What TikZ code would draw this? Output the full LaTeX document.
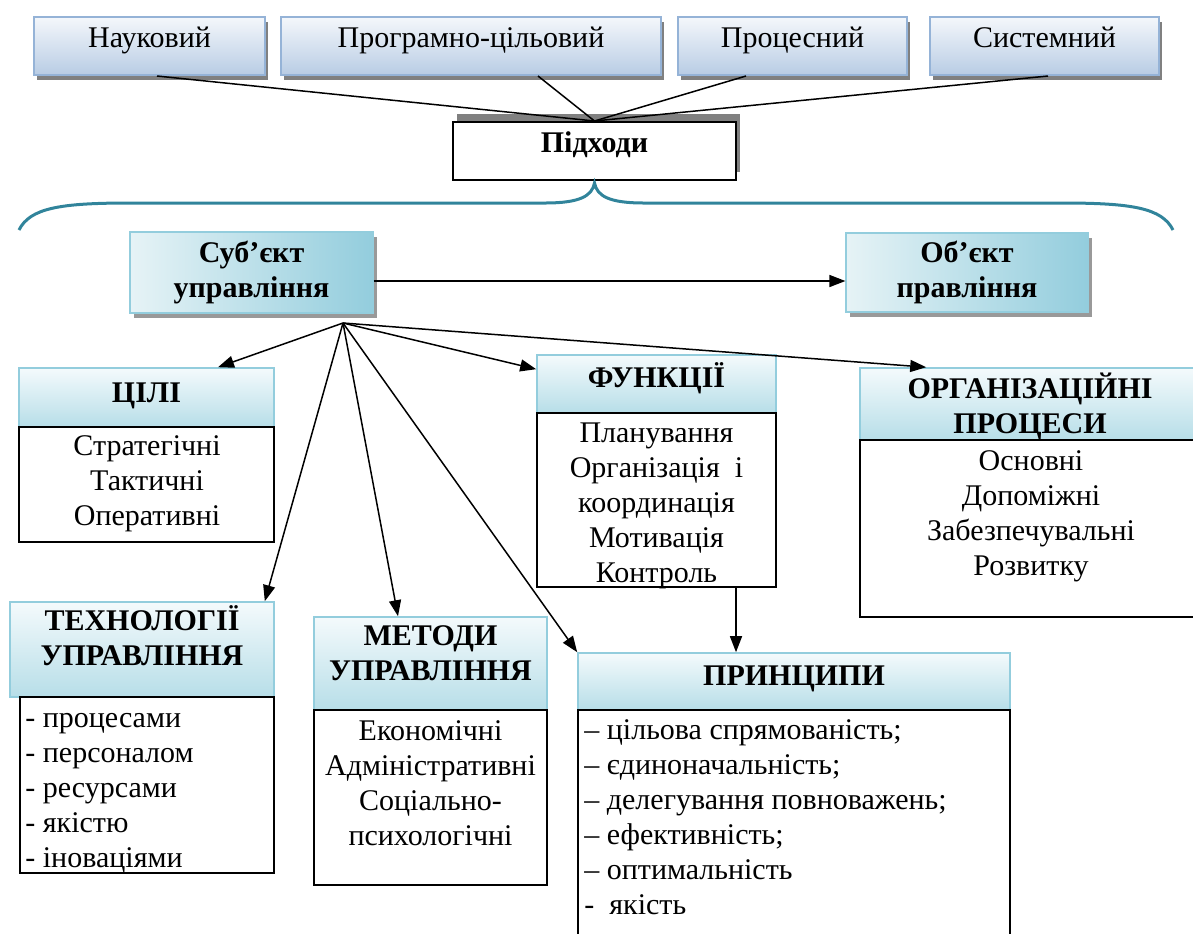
\documentclass[tikz,border=0pt]{standalone}
\usepackage{fontspec}
\setmainfont{Liberation Serif}
\usetikzlibrary{positioning,arrows.meta,fit,calc,shadows}
\definecolor{apprtop}{HTML}{F4F7FB}
\definecolor{apprbot}{HTML}{B8CCE4}
\definecolor{apprline}{HTML}{95B3D7}
\definecolor{headtop}{HTML}{F4FAFC}
\definecolor{headbot}{HTML}{B7DEE8}
\definecolor{headline}{HTML}{93CDDD}
\definecolor{actleft}{HTML}{E6F3F6}
\definecolor{actright}{HTML}{93CDDD}
\definecolor{bracec}{HTML}{31849B}
\definecolor{shade}{HTML}{808080}

\begin{document}
\begin{tikzpicture}[
  x=0.5pt, y=-0.5pt,
  font=\fontsize{15}{17.5}\selectfont,
  box/.style={inner sep=0pt, line width=1pt},
  appr/.style={box, draw=apprline, top color=apprtop, bottom color=apprbot,
               drop shadow={shadow xshift=1.5pt, shadow yshift=-2.5pt, fill=shade, opacity=1}},
  hub/.style={box, draw=black, fill=white,
              drop shadow={shadow xshift=2pt, shadow yshift=4pt, fill=shade, opacity=1}},
  actor/.style={box, line width=0.6pt, draw=headline, left color=actleft, right color=actright,
                drop shadow={shadow xshift=2pt, shadow yshift=-2.5pt, fill=shade!80, opacity=1}},
  head/.style={box, line width=0.8pt, draw=headline, top color=headtop, bottom color=headbot},
  list/.style={box, draw=black, fill=white},
  % multi-line texts sit on the baseline of their last line
  txt/.style={anchor=base, inner sep=0pt, align=center},
  hd/.style={txt, font=\fontsize{15}{17.5}\selectfont\bfseries},
  lst/.style={anchor=base west, inner sep=0pt, align=left},
  ln/.style={draw=black, line width=0.75pt},
  ar/.style={ln, -{Triangle[length=8pt,width=6pt]}},
  bracel/.style={draw=bracec, line width=1.5pt},
]
\useasboundingbox (0,0) rectangle (1193,933);

% approaches
\node[appr, fit={(34,17) (265,75)}] (nauk) {};
\node[appr, fit={(281,17) (661,75)}] (prog) {};
\node[appr, fit={(678,17) (907,75)}] (proc) {};
\node[appr, fit={(930,17) (1159,75)}] (syst) {};
\node[txt] (nauk-t) at (149.5,47) {Науковий};
\node[txt] (prog-t) at (471,47) {Програмно-цільовий};
\node[txt] (proc-t) at (792.5,47) {Процесний};
\node[txt] (syst-t) at (1044.5,47) {Системний};

\node[hub, fit={(453,122) (736,180)}] (pidh) {};
\node[hd] (pidh-t) at (594.5,152) {Підходи};

\draw[ln] ($(nauk.south)+(7.5,0)$) -- (pidh.north);
\draw[ln] ($(prog.south)+(67,0)$) -- (pidh.north);
\draw[ln] ($(proc.south)+(-46.5,0)$) -- (pidh.north);
\draw[ln] ($(syst.south)+(3.5,0)$) -- (pidh.north);

% brace
\coordinate (tip) at ($(pidh.south)+(0,2)$);
\draw[bracel] (19,230) .. controls (30,208) and (60,203) .. (130,203) -- (545,203)
  .. controls (580,203) and (592,196) .. (tip)
  .. controls (597,196) and (609,203) .. (644,203) -- (1062,203)
  .. controls (1132,203) and (1162,208) .. (1173,230);

% subject / object
\node[actor, fit={(130,232) (373,313)}] (subj) {};
\node[actor, fit={(846,233) (1088,312)}] (obj) {};
\node[hd] (subj-t) at (251.5,297) {Суб’єкт\\управління};
\node[hd] (obj-t) at (967,297) {Об’єкт\\правління};
\draw[ar] ($(subj.east)+(0,8.5)$) -- ($(obj.west)+(0,8.5)$);

% blocks
\node[head, fit={(19,368) (274,427)}] (cil-h) {};
\node[list, fit={(19,427) (274,542)}] (cil-b) {};
\node[head, fit={(537,355) (776,413)}] (func-h) {};
\node[list, fit={(537,413) (776,587)}] (func-b) {};
\node[head, fit={(860,368) (1200,440)}] (org-h) {};
\node[list, fit={(860,440) (1200,617)}] (org-b) {};
\node[head, fit={(10,602) (274,697)}] (tech-h) {};
\node[list, fit={(20,697) (274,873)}] (tech-b) {};
\node[head, fit={(314,617) (547,710)}] (meth-h) {};
\node[list, fit={(314,710) (547,885)}] (meth-b) {};
\node[head, fit={(578,653) (1010,710)}] (prin-h) {};
\node[list, fit={(578,710) (1010,945)}] (prin-b) {};

\node[hd] (cil-t) at (146.5,402) {ЦІЛІ};
\node[txt] (cil-l) at (147,525) {Стратегічні\\Тактичні\\Оперативні};
\node[hd] (func-t) at (656.5,387) {ФУНКЦІЇ};
\node[txt] (func-l) at (656.5,582) {Планування\\Організація~~і\\координація\\Мотивація\\Контроль};
\node[hd] (org-t) at (1030,433) {ОРГАНІЗАЦІЙНІ\\ПРОЦЕСИ};
\node[txt] (org-l) at (1031,575) {Основні\\Допоміжні\\Забезпечувальні\\Розвитку};
\node[hd] (tech-t) at (142,665) {ТЕХНОЛОГІЇ\\УПРАВЛІННЯ};
\node[lst] (tech-l) at (25,867) {- процесами\\- персоналом\\- ресурсами\\- якістю\\- іноваціями};
\node[hd] (meth-t) at (430.5,680) {МЕТОДИ\\УПРАВЛІННЯ};
\node[txt] (meth-l) at (430.5,845) {Економічні\\Адміністративні\\Соціально-\\психологічні};
\node[hd] (prin-t) at (794,685) {ПРИНЦИПИ};
\node[lst] (prin-l) at (584,914) {– цільова спрямованість;\\– єдиноначальність;\\– делегування повноважень;\\– ефективність;\\– оптимальність\\-\ \ якість};

% arrows from the subject
\coordinate (hubpt) at (343,323);
\draw[ar] (hubpt) -- ($(cil-h.north)+(71.5,0)$);
\draw[ar] (hubpt) -- ($(func-h.north west)+(0,15)$);
\draw[ar] (hubpt) -- ($(org-h.north west)+(67,0)$);
\draw[ar] (hubpt) -- ($(tech-h.north east)+(-10,0)$);
\draw[ar] (hubpt) -- ($(meth-h.north)+(-32.5,0)$);
\draw[ar] (hubpt) -- (prin-h.north west);
\draw[ar] ($(func-b.south east)+(-41,0)$) coordinate (fdown) -- (fdown |- prin-h.north);

\end{tikzpicture}
\end{document}
